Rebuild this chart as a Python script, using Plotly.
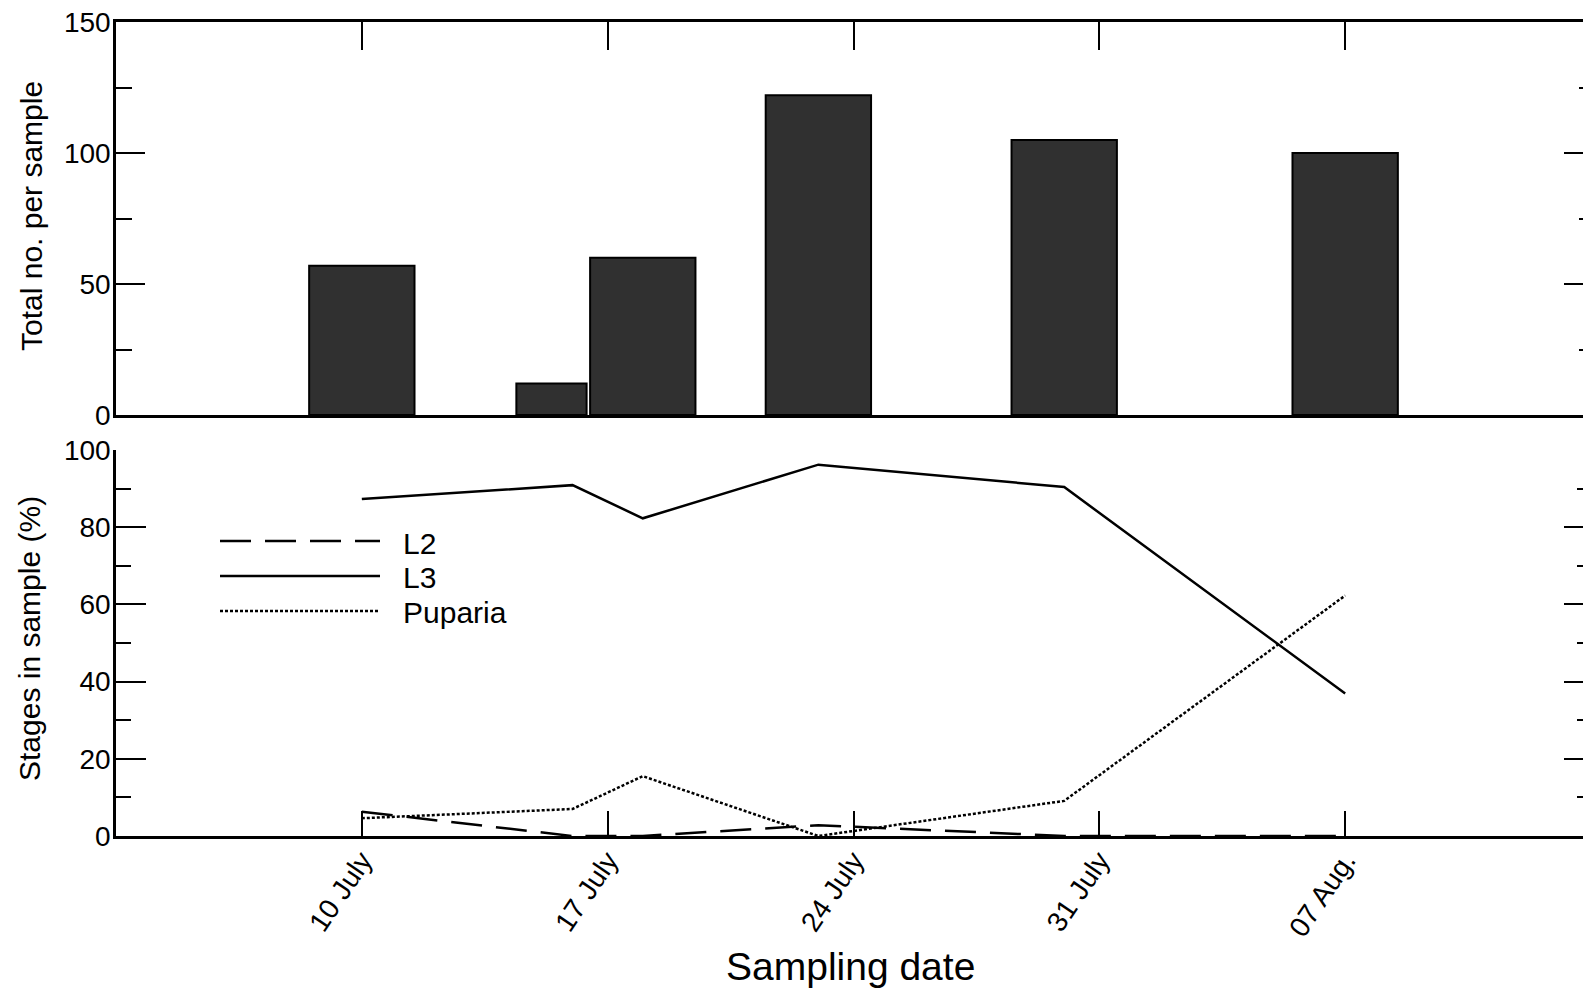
import plotly.graph_objects as go

# ---- data (x in days counted from 1 July) ----
bar_day = [10, 15.4, 18, 23, 30, 38]
total_per_sample = [57, 12, 60, 122, 105, 100]

sample_day = [10, 16, 18, 23, 30, 38]
l2 = [6.3, 0, 0, 2.8, 0, 0]
l3 = [87.3, 90.9, 82.3, 96.2, 90.4, 36.9]
puparia = [4.6, 7.0, 15.5, 0, 9.1, 62.3]

tick_days = [10, 17, 24, 31, 38]
tick_labels = ["10 July", "17 July", "24 July", "31 July", "07 Aug."]

top_ticks = [0, 50, 100, 150]
top_minor = [25, 75, 125]
bot_ticks = [0, 20, 40, 60, 80, 100]
bot_minor = [10, 30, 50, 70, 90]

# ---- styling / geometry ----
bar_widths = [3, 2, 3, 3, 3, 3]
OFF = 8  # page body margin offset
W, H = 1591 - OFF, 997 - OFF
ML, MR, MT, MB = 116 - OFF, 0, 22 - OFF, 161
PW, PH = W - ML - MR, H - MT - MB
FONT = "Liberation Sans, Arial, sans-serif"


def px(xp):
    return (xp - OFF - ML) / PW


def py(yp):
    return (H - MB - (yp - OFF)) / PH


fig = go.Figure()

fig.add_trace(go.Bar(
    x=bar_day, y=total_per_sample, width=bar_widths,
    marker=dict(color="#303030", line=dict(color="black", width=2)),
    xaxis="x", yaxis="y", hoverinfo="x+y"))
fig.add_trace(go.Scatter(
    x=bar_day, y=total_per_sample, mode="markers", marker=dict(opacity=0),
    xaxis="x", yaxis="y3", hoverinfo="skip"))

line_w = 2.5
fig.add_trace(go.Scatter(x=sample_day, y=l2, mode="lines", name="L2",
                         line=dict(color="black", width=line_w, dash="31px,14px"),
                         xaxis="x2", yaxis="y2", cliponaxis=False))
fig.add_trace(go.Scatter(x=sample_day, y=l3, mode="lines", name="L3",
                         line=dict(color="black", width=line_w),
                         xaxis="x2", yaxis="y2", cliponaxis=False))
fig.add_trace(go.Scatter(x=sample_day, y=puparia, mode="lines", name="Puparia",
                         line=dict(color="black", width=line_w, dash="3px,2px"),
                         xaxis="x2", yaxis="y2", cliponaxis=False))
fig.add_trace(go.Scatter(x=sample_day, y=l3, mode="markers", marker=dict(opacity=0),
                         xaxis="x2", yaxis="y4", hoverinfo="skip"))

top_dom = [py(415), py(22)]
bot_dom = [0, py(450)]
xr = [3, 45]

common = dict(showgrid=False, zeroline=False, linecolor="black", tickcolor="black",
              tickwidth=2, automargin=False)

fig.update_layout(
    width=W, height=H,
    margin=dict(l=ML, r=MR, t=MT, b=MB, pad=0, autoexpand=False),
    paper_bgcolor="white", plot_bgcolor="white",
    showlegend=False,
    font=dict(family=FONT, color="black", size=28),
    xaxis=dict(domain=[0, 1], range=xr, anchor="y", side="top", showline=True,
               linewidth=2.5, mirror=True, ticks="inside", ticklen=28,
               tickvals=tick_days, showticklabels=False, **common),
    yaxis=dict(domain=top_dom, range=[0, 150], anchor="x", showline=True,
               linewidth=2.5, ticks="inside", ticklen=29, tickvals=top_ticks,
               tickfont=dict(size=28, family=FONT), ticklabeloverflow="allow",
               ticklabelstandoff=-3,
               minor=dict(tickvals=top_minor, ticks="inside", ticklen=16,
                          tickwidth=2, tickcolor="black"),
               **common),
    yaxis3=dict(overlaying="y", side="right", anchor="x", range=[0, 150],
                showline=False, ticks="inside", ticklen=27, tickvals=top_ticks,
                showticklabels=False,
                minor=dict(tickvals=top_minor, ticks="inside", ticklen=12,
                           tickwidth=2, tickcolor="black"),
                **common),
    xaxis2=dict(domain=[0, 1], range=xr, anchor="y2", side="bottom", showline=True,
                linewidth=2.5, ticks="inside", ticklen=25, tickvals=tick_days,
                ticktext=tick_labels, tickangle=-56, ticklabelstandoff=-6,
                tickfont=dict(size=28, family=FONT), ticklabeloverflow="allow",
                **common),
    yaxis2=dict(domain=bot_dom, range=[0, 100], anchor="x2", showline=True,
                linewidth=2.5, ticks="inside", ticklen=30, tickvals=bot_ticks,
                tickfont=dict(size=28, family=FONT), ticklabeloverflow="allow",
                ticklabelstandoff=-3,
                minor=dict(tickvals=bot_minor, ticks="inside", ticklen=15,
                           tickwidth=2, tickcolor="black"),
                **common),
    yaxis4=dict(overlaying="y2", side="right", anchor="x2", range=[0, 100],
                showline=False, ticks="inside", ticklen=27, tickvals=bot_ticks,
                showticklabels=False,
                minor=dict(tickvals=bot_minor, ticks="inside", ticklen=14,
                           tickwidth=2, tickcolor="black"),
                **common),
)

annotations = [
    dict(text="Total no. per sample", x=px(31), y=py(216), xref="paper", yref="paper",
         textangle=-90, showarrow=False, xanchor="center", yanchor="middle",
         font=dict(size=30, family=FONT, color="black")),
    dict(text="Stages in sample (%)", x=px(29), y=py(639), xref="paper", yref="paper",
         textangle=-90, showarrow=False, xanchor="center", yanchor="middle",
         font=dict(size=30, family=FONT, color="black")),
    dict(text="Sampling date", x=px(850), y=py(966), xref="paper", yref="paper",
         showarrow=False, xanchor="center", yanchor="middle",
         font=dict(size=39, family=FONT, color="black")),
]

legend_items = [("L2", "31px,14px", 541, 543), ("L3", "solid", 576, 577),
                ("Puparia", "3px,2px", 611, 612)]
shapes = []
for name, dash, ly, ty in legend_items:
    shapes.append(dict(type="line", xref="paper", yref="paper",
                       x0=px(220), x1=px(380), y0=py(ly), y1=py(ly),
                       line=dict(color="black", width=line_w, dash=dash)))
    annotations.append(dict(text=name, x=px(401), y=py(ty), xref="paper", yref="paper",
                            showarrow=False, xanchor="left", yanchor="middle",
                            font=dict(size=30, family=FONT, color="black")))

fig.update_layout(annotations=annotations, shapes=shapes)

fig.write_html("out.html")
